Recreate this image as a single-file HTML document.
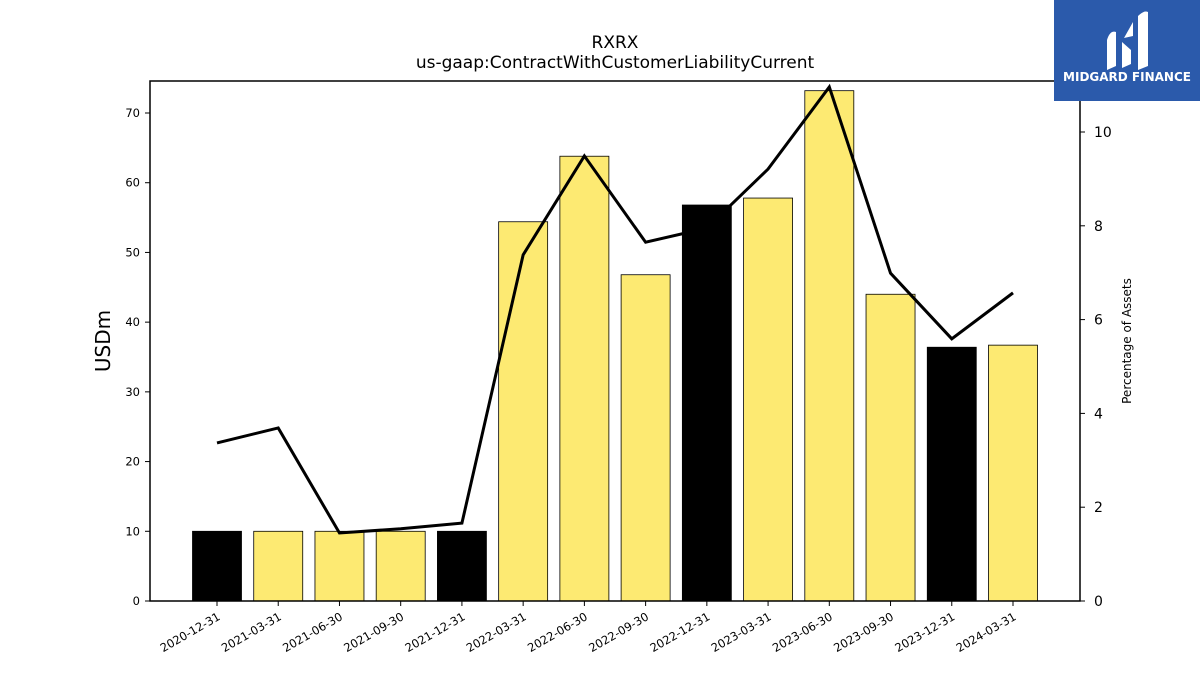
<!DOCTYPE html>
<html><head><meta charset="utf-8"><style>
body{margin:0;background:#fff;font-family:"Liberation Sans","DejaVu Sans",sans-serif;}
svg text{font-family:"DejaVu Sans","Liberation Sans",sans-serif;}
</style></head><body>
<svg width="1200" height="675" viewBox="0 0 1200 675" xmlns="http://www.w3.org/2000/svg">
<rect width="1200" height="675" fill="#fff"/>
<text x="615" y="48" text-anchor="middle" font-size="17">RXRX</text>
<text x="615" y="68" text-anchor="middle" font-size="17">us-gaap:ContractWithCustomerLiabilityCurrent</text>
<g id="bars"></g><g id="line"></g><g id="axes"></g>
<rect x="150" y="81" width="930" height="520" fill="none" stroke="#000" stroke-width="1.5"/>
<text transform="translate(110,341) rotate(-90)" text-anchor="middle" font-size="20">USDm</text>
<text transform="translate(1131,341) rotate(-90)" text-anchor="middle" font-size="12">Percentage of Assets</text>
<g>
<rect x="1054" y="0" width="146" height="101" fill="#2b5aab"/>
<path d="M1107 70 L1107 40 Q1110 30 1116 32 L1116 66 Z M1122 68 L1122 42 L1131 50 L1131 64 Z M1138 70 L1138 16 Q1144 10 1148 12 L1148 66 Z M1124 38 L1133 22 L1133 36 Z" fill="#fff"/>
<text x="1127" y="81" text-anchor="middle" font-size="12" font-weight="bold" fill="#fff">MIDGARD FINANCE</text>
</g>
</svg>
<script>
const categories=["2020-12-31","2021-03-31","2021-06-30","2021-09-30","2021-12-31","2022-03-31","2022-06-30","2022-09-30","2022-12-31","2023-03-31","2023-06-30","2023-09-30","2023-12-31","2024-03-31"];
const barValues=[10,10,10,10,10,54.4,63.8,46.8,56.8,57.8,73.2,44.0,36.4,36.7];
const pctValues=[3.37,3.69,1.45,1.54,1.66,7.38,9.49,7.65,7.95,9.21,10.96,6.99,5.59,6.57];
const leftTicks=[0,10,20,30,40,50,60,70];
const rightTicks=[0,2,4,6,8,10];
const NS="http://www.w3.org/2000/svg";
const X0=150,X1=1080,Y0=601,Y1=81;
const yL=v=>Y0-v*(488/70);
const yR=v=>Y0-v*(469/10);
const xC=i=>217+i*(1013-217)/(categories.length-1);
function mk(t,a,p){const e=document.createElementNS(NS,t);for(const k in a)e.setAttribute(k,a[k]);p.appendChild(e);return e;}
const bars=document.getElementById('bars'),line=document.getElementById('line'),axes=document.getElementById('axes');
categories.forEach((c,i)=>{
 const yearEnd=c.endsWith('12-31');
 const r=mk('rect',{x:xC(i)-24.5,y:yL(barValues[i]),width:49,height:Y0-yL(barValues[i]),fill:yearEnd?'#000':'#fdea72',stroke:'#000','stroke-width':0.8},bars);
 
 
 const tk=mk('line',{x1:xC(i),x2:xC(i),y1:Y0,y2:Y0+5,stroke:'#000'},axes);
 
 
 const t=mk('text',{x:xC(i)+4,y:Y0+18,'font-size':11.5,'text-anchor':'end',transform:`rotate(-30 ${xC(i)+4} ${Y0+18})`},axes);
 t.textContent=c;
 
 
});
const pl=mk('polyline',{points:pctValues.map((v,i)=>xC(i)+','+yR(v)).join(' '),fill:'none',stroke:'#000','stroke-width':3,'stroke-linejoin':'miter'},line);


leftTicks.forEach(v=>{
 const l=mk('line',{x1:X0-5,x2:X0,y1:yL(v),y2:yL(v),stroke:'#000'},axes);
 
 
 const t=mk('text',{x:X0-10,y:yL(v)+4,'font-size':11.5,'text-anchor':'end'},axes);
 t.textContent=v;
 
 
});
rightTicks.forEach(v=>{
 const l=mk('line',{x1:X1,x2:X1+5,y1:yR(v),y2:yR(v),stroke:'#000'},axes);
 
 
 const t=mk('text',{x:X1+14,y:yR(v)+5,'font-size':14},axes);
 t.textContent=v;
 
 
});
</script>
</body></html>
